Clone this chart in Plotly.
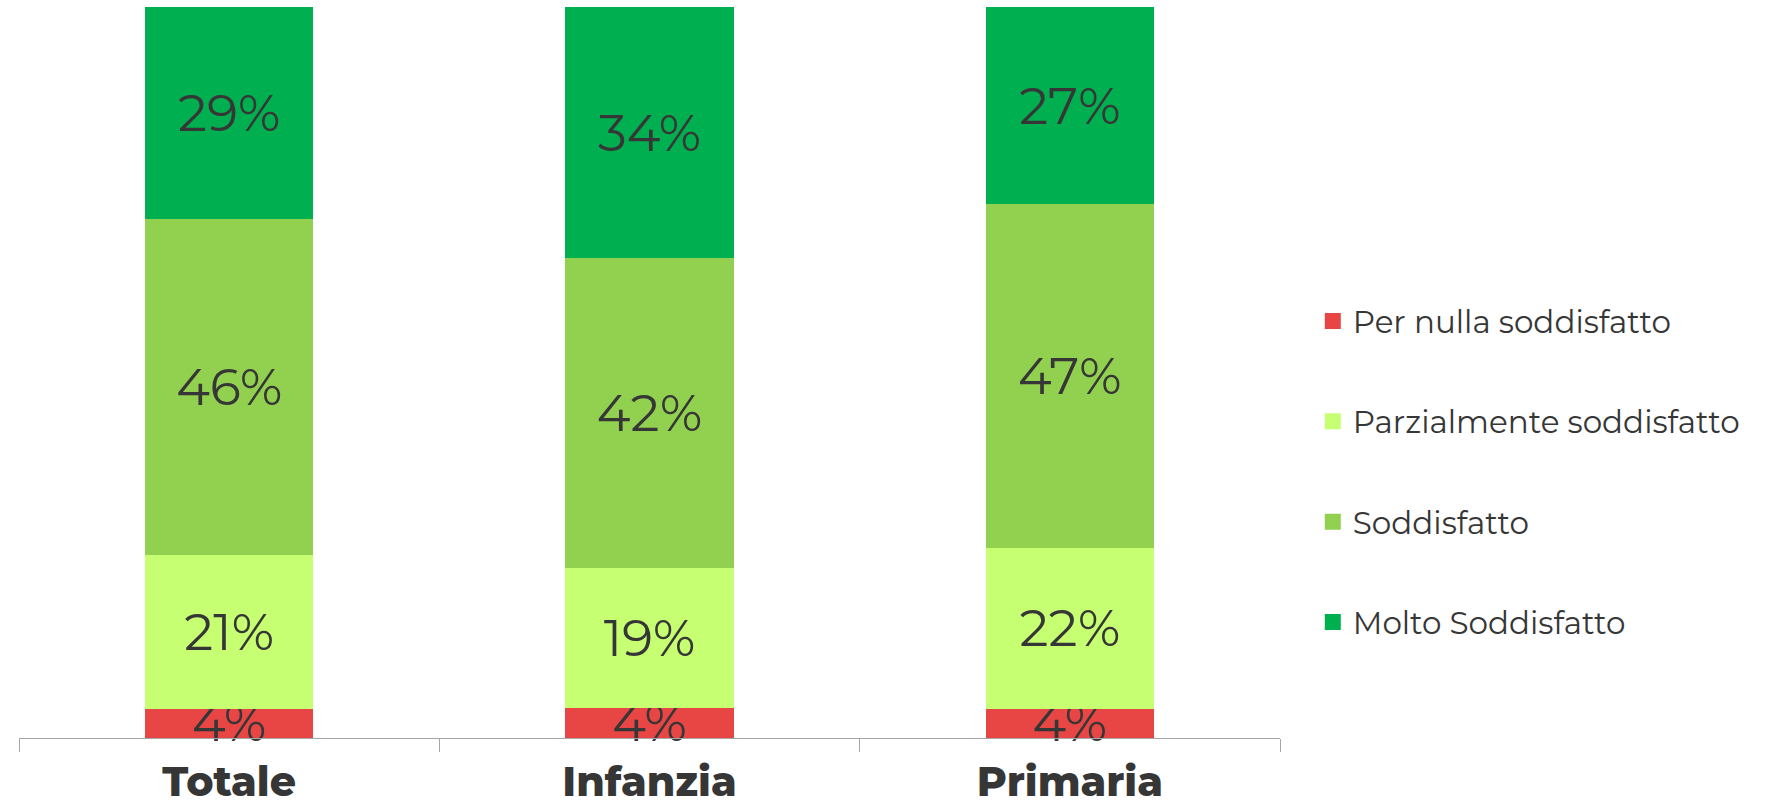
import plotly.graph_objects as go

# Survey results: satisfaction share by school level
categories = ["Totale", "Infanzia", "Primaria"]
series_names = ["Per nulla soddisfatto", "Parzialmente soddisfatto",
                "Soddisfatto", "Molto Soddisfatto"]
per_nulla = [4, 4, 4]
parzialmente = [21, 19, 22]
soddisfatto = [46, 42, 47]
molto = [29, 34, 27]
colors = ["#E84545", "#C7FF72", "#92D050", "#00B050"]

values = [per_nulla, parzialmente, soddisfatto, molto]

LABEL_FONT = "Montserrat, Noto Sans, Open Sans, sans-serif"
TEXT_COLOR = "#363636"

fig = go.Figure()
for name, vals, col in zip(series_names, values, colors):
    fig.add_trace(go.Bar(
        x=categories, y=vals, name=name,
        marker=dict(color=col, line=dict(width=0)),
        text=[f"{v}%" for v in vals],
        textposition="inside", insidetextanchor="middle",
        constraintext="none", textangle=0, cliponaxis=False,
        textfont=dict(family=LABEL_FONT, size=51, color=TEXT_COLOR),
        showlegend=False, hoverinfo="skip",
    ))

# legend entries with larger square swatches
for i, (name, col) in enumerate(zip(series_names, colors)):
    fig.add_trace(go.Scatter(
        x=[None], y=[None], mode="markers", name=name,
        legendgroup=f"g{i}",
        marker=dict(symbol="square", size=16, color=col),
    ))

fig.update_layout(
    width=1771, height=811,
    margin=dict(l=19, r=491, t=7, b=73, autoexpand=False),
    barmode="stack", barnorm="percent", bargap=0.6,
    plot_bgcolor="white", paper_bgcolor="white",
    legend=dict(
        x=1.026, xanchor="left", y=0.364, yanchor="middle",
        traceorder="grouped", tracegroupgap=57,
        font=dict(family=LABEL_FONT, size=31, color=TEXT_COLOR),
        itemsizing="trace",
    ),
    xaxis=dict(
        showline=True, linecolor="#A6A6A6", linewidth=1.3,
        ticks="outside", tickson="boundaries", ticklen=13,
        tickcolor="#A6A6A6", tickwidth=1.3, ticklabelstandoff=8,
        tickfont=dict(family=LABEL_FONT, size=41,
                      color=TEXT_COLOR, weight=800),
        showgrid=False, zeroline=False, automargin=False,
    ),
    yaxis=dict(range=[0, 100], visible=False, showgrid=False,
               automargin=False),
)

fig.write_html("out.html")
